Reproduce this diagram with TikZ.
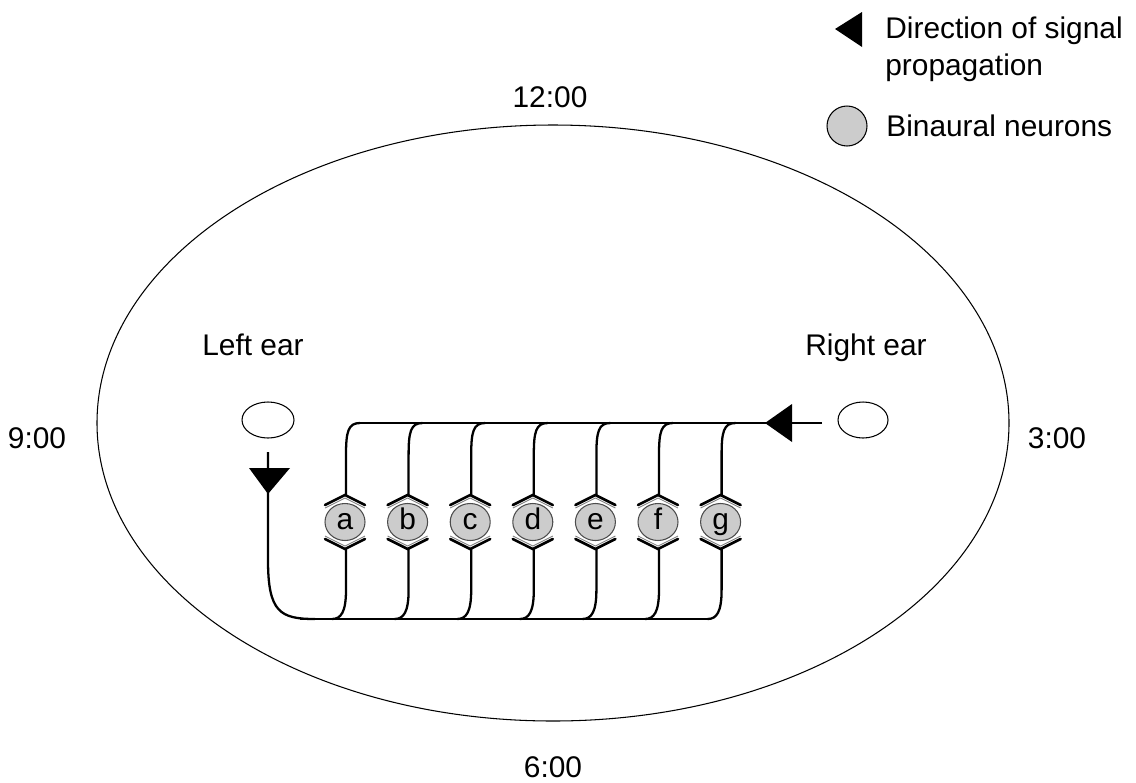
\documentclass[tikz,border=0pt]{standalone}
\usepackage{fontspec}
\setmainfont{Liberation Sans}
\usetikzlibrary{shapes.geometric}
\begin{document}
\begin{tikzpicture}[x=0.02cm,y=-0.02cm,
  lbl/.style={font=\fontsize{17}{21}\selectfont, inner sep=0pt},
  wire/.style={line width=1.3pt},
  chev/.style={line width=1.5pt, line cap=round},
  chevin/.style={line width=0.5pt, gray},
  letter/.style={inner sep=0pt, anchor=base, font=\fontsize{17}{21}\selectfont},
  arrowhead/.style={fill=black}
]
\useasboundingbox (0,0) rectangle (1136,782);
% head outline
\draw[line width=0.6pt] (553,423) ellipse [x radius=456, y radius=298];
% clock labels
\node[lbl] (t12) at (550,97) {12:00};
\node[lbl] (t6) at (553,767) {6:00};
\node[lbl] (t9) at (37,438) {9:00};
\node[lbl] (t3) at (1057,438) {3:00};
% ears
\node[lbl] (leftlbl) at (253,345) {Left ear};
\node[lbl] (rightlbl) at (866,348) {Right ear};
\draw[line width=0.6pt, fill=white] (268,420) ellipse [x radius=26, y radius=18];
\node[inner sep=0pt, minimum size=0pt] (lear) at (268,420) {};
\draw[line width=0.6pt, fill=white] (863,420) ellipse [x radius=25, y radius=18];
\node[inner sep=0pt, minimum size=0pt] (rear) at (863,420) {};
% main lines
\coordinate (topR) at (822,423);
\coordinate (topL) at (358,423);
\coordinate (botL) at (300,619);
\coordinate (botR) at (710,619);
\draw[wire] (topR) -- (topL);
\draw[wire] (botL) -- (botR);
% right arrowhead
\fill[arrowhead] (765,423) -- (792,404) -- (792,442) -- cycle;
% left path
\coordinate (lstart) at (268,452);
\draw[wire] (lstart) -- (268,560) .. controls (268,612) and (280,619) .. (315,619);
\fill[arrowhead] (249,468) -- (290,468) -- (268,494) -- cycle;
% neurons
\foreach \i/\l in {0/a,1/b,2/c,3/d,4/e,5/f,6/g}{
  \pgfmathsetmacro{\x}{345+62.6*\i}
  \draw[fill=black!20, draw=black!70, line width=0.6pt] (\x,522) ellipse [x radius=20, y radius=18.5];
  \node[letter] (n\l) at (\x,529) {\l};
  % chevrons
  \draw[chev] (\x-20,505) -- (\x,495) -- (\x+20,505);
  \draw[chevin] (\x-20,508) -- (\x,498) -- (\x+20,508);
  \draw[chev] (\x-20,539) -- (\x,549) -- (\x+20,539);
  \draw[chevin] (\x-20,536) -- (\x,546) -- (\x+20,536);
  % top connector
  \draw[wire] (\x+15,423) .. controls (\x+3,423) and (\x+1,432) .. (\x+1,455) -- (\x+1,495);
  % bottom connector
  \draw[wire] (\x+1,549) -- (\x+1,590) .. controls (\x+1,612) and (\x-4,619) .. (\x-13,619);
}
% legend
\fill[arrowhead] (835,29) -- (862,12) -- (862,47) -- cycle;
\node[lbl, anchor=west, align=left] (leg1) at (885,49) {Direction of signal\\propagation};
\draw[line width=0.6pt, fill=black!20] (847,126) circle [radius=20];
\node[inner sep=0pt] (legc) at (847,126) {};
\node[lbl, anchor=west] (leg2) at (886,126) {Binaural neurons};
\end{tikzpicture}
\end{document}
